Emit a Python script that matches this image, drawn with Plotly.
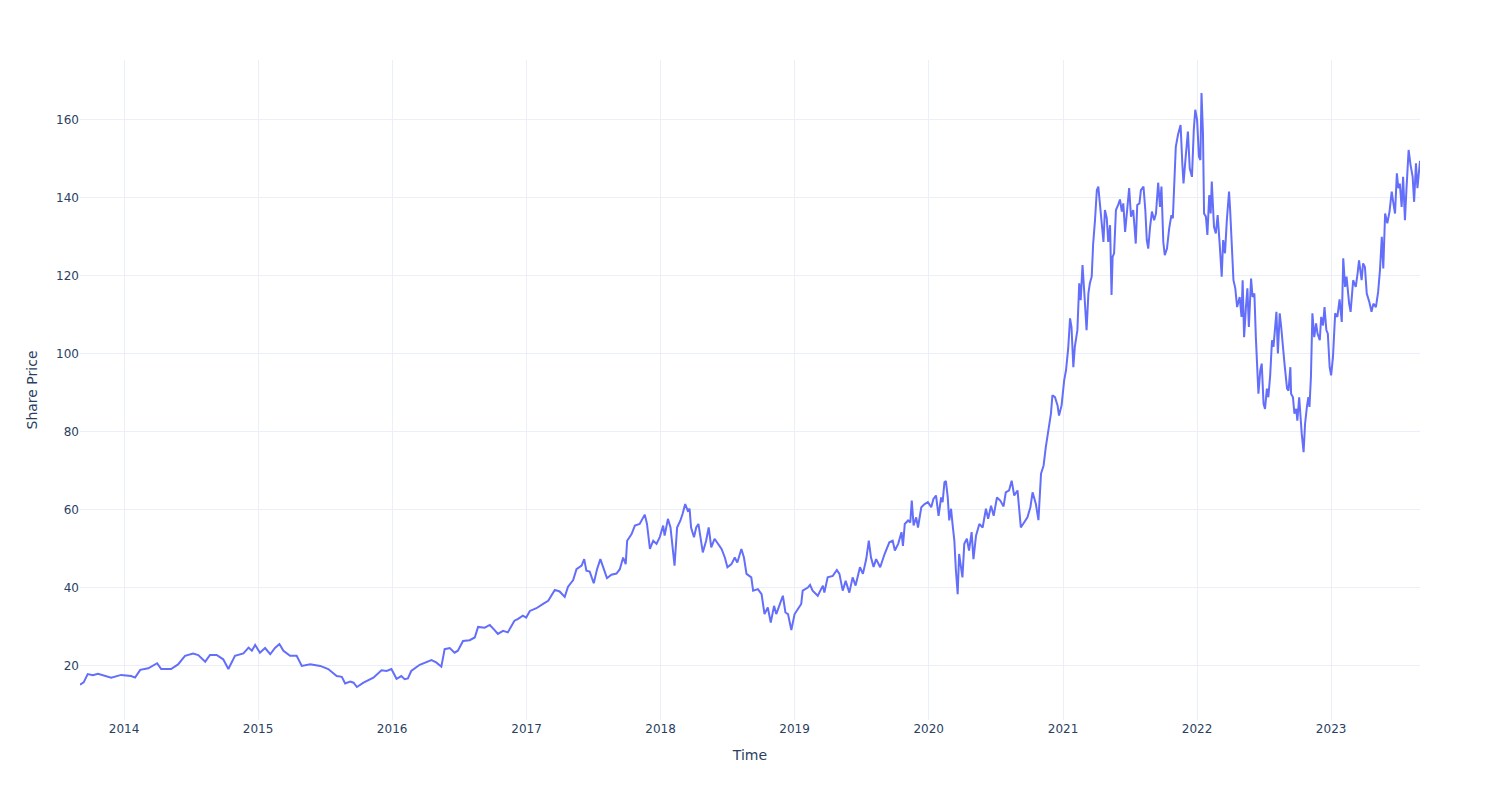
import plotly.graph_objects as go

dates = [
    "2013-09-03", "2013-09-13", "2013-09-24", "2013-10-08", "2013-10-22", "2013-11-08", "2013-11-27",
    "2013-12-24", "2014-01-20", "2014-01-31", "2014-02-14", "2014-03-08", "2014-04-01", "2014-04-12",
    "2014-05-09", "2014-05-28", "2014-06-16", "2014-07-08", "2014-07-22", "2014-08-10", "2014-08-23",
    "2014-09-10", "2014-09-28", "2014-10-12", "2014-10-30", "2014-11-22", "2014-12-06", "2014-12-15",
    "2014-12-24", "2015-01-06", "2015-01-20", "2015-02-03", "2015-02-16", "2015-02-28", "2015-03-11",
    "2015-03-29", "2015-04-16", "2015-04-30", "2015-05-23", "2015-06-19", "2015-07-11", "2015-08-03",
    "2015-08-17", "2015-08-26", "2015-09-09", "2015-09-18", "2015-09-27", "2015-10-15", "2015-11-11",
    "2015-12-03", "2015-12-17", "2015-12-30", "2016-01-13", "2016-01-26", "2016-02-04", "2016-02-13",
    "2016-02-22", "2016-03-16", "2016-04-03", "2016-04-17", "2016-04-30", "2016-05-14", "2016-05-23",
    "2016-06-06", "2016-06-19", "2016-06-28", "2016-07-12", "2016-07-30", "2016-08-13", "2016-08-22",
    "2016-09-09", "2016-09-23", "2016-10-06", "2016-10-15", "2016-10-29", "2016-11-11", "2016-11-29",
    "2016-12-08", "2016-12-22", "2016-12-31",
    "2017-01-10", "2017-01-28", "2017-02-15", "2017-03-01", "2017-03-19", "2017-04-01", "2017-04-15",
    "2017-04-24", "2017-05-08", "2017-05-17", "2017-05-31", "2017-06-07", "2017-06-13", "2017-06-22",
    "2017-07-03", "2017-07-12", "2017-07-21", "2017-07-28", "2017-08-08", "2017-08-20", "2017-09-03",
    "2017-09-12", "2017-09-21", "2017-09-28", "2017-10-02", "2017-10-14", "2017-10-23", "2017-11-05",
    "2017-11-19", "2017-11-25", "2017-12-03", "2017-12-12", "2017-12-21", "2017-12-30",
    "2018-01-08", "2018-01-12", "2018-01-21", "2018-01-28", "2018-02-03", "2018-02-08", "2018-02-15",
    "2018-02-24", "2018-03-02", "2018-03-09", "2018-03-16", "2018-03-21", "2018-03-25", "2018-04-02",
    "2018-04-08", "2018-04-14", "2018-04-26", "2018-05-05", "2018-05-12", "2018-05-19", "2018-05-28",
    "2018-06-06", "2018-06-16", "2018-06-25", "2018-07-02", "2018-07-13", "2018-07-22", "2018-07-29",
    "2018-08-09", "2018-08-16", "2018-08-23", "2018-09-05", "2018-09-10", "2018-09-23", "2018-10-03",
    "2018-10-11", "2018-10-20", "2018-10-28", "2018-11-06", "2018-11-12", "2018-11-21", "2018-11-30",
    "2018-12-07", "2018-12-14", "2018-12-23",
    "2019-01-01", "2019-01-10", "2019-01-19", "2019-01-23", "2019-02-06", "2019-02-12", "2019-02-19",
    "2019-03-05", "2019-03-19", "2019-03-23", "2019-04-01", "2019-04-15", "2019-04-26", "2019-05-03",
    "2019-05-12", "2019-05-20", "2019-05-30", "2019-06-08", "2019-06-16", "2019-06-28", "2019-07-06",
    "2019-07-15", "2019-07-22", "2019-07-28", "2019-08-04", "2019-08-11", "2019-08-22", "2019-09-03",
    "2019-09-16", "2019-09-25", "2019-10-01", "2019-10-10", "2019-10-19", "2019-10-23", "2019-10-28",
    "2019-11-06", "2019-11-12", "2019-11-16", "2019-11-21", "2019-11-28", "2019-12-03", "2019-12-12",
    "2019-12-21", "2019-12-30",
    "2020-01-08", "2020-01-14", "2020-01-21", "2020-01-28", "2020-02-04", "2020-02-08", "2020-02-13",
    "2020-02-17", "2020-02-22", "2020-02-26", "2020-03-02", "2020-03-06", "2020-03-11", "2020-03-15",
    "2020-03-20", "2020-03-24", "2020-03-29", "2020-04-02", "2020-04-07", "2020-04-14", "2020-04-20",
    "2020-04-27", "2020-05-02", "2020-05-09", "2020-05-18", "2020-05-27", "2020-06-05", "2020-06-11",
    "2020-06-19", "2020-06-26", "2020-07-05", "2020-07-14", "2020-07-23", "2020-07-29", "2020-08-07",
    "2020-08-14", "2020-08-21", "2020-08-30", "2020-09-08", "2020-09-17", "2020-09-26", "2020-10-04",
    "2020-10-10", "2020-10-19", "2020-10-26", "2020-11-02", "2020-11-09", "2020-11-15", "2020-11-24",
    "2020-11-29", "2020-12-03", "2020-12-10", "2020-12-17", "2020-12-21", "2020-12-28",
    "2021-01-04", "2021-01-09", "2021-01-15", "2021-01-20", "2021-01-24", "2021-01-29", "2021-02-02",
    "2021-02-09", "2021-02-14", "2021-02-18", "2021-02-23", "2021-02-28", "2021-03-06", "2021-03-11",
    "2021-03-15", "2021-03-20", "2021-03-24", "2021-03-29", "2021-04-03", "2021-04-07", "2021-04-10",
    "2021-04-16", "2021-04-21", "2021-04-25", "2021-04-30", "2021-05-04", "2021-05-09", "2021-05-13",
    "2021-05-16", "2021-05-20", "2021-05-25", "2021-05-31", "2021-06-05", "2021-06-10", "2021-06-14",
    "2021-06-19", "2021-06-25", "2021-06-30", "2021-07-05", "2021-07-11", "2021-07-18", "2021-07-22",
    "2021-07-28", "2021-08-01", "2021-08-08", "2021-08-13", "2021-08-17", "2021-08-21", "2021-08-26",
    "2021-08-31", "2021-09-06", "2021-09-11", "2021-09-17", "2021-09-22", "2021-09-26", "2021-10-01",
    "2021-10-05", "2021-10-11", "2021-10-17", "2021-10-23", "2021-10-27", "2021-11-04", "2021-11-10",
    "2021-11-17", "2021-11-22", "2021-11-25", "2021-12-01", "2021-12-07", "2021-12-12", "2021-12-18",
    "2021-12-23", "2021-12-27",
    "2022-01-01", "2022-01-06", "2022-01-10", "2022-01-13", "2022-01-17", "2022-01-20", "2022-01-25",
    "2022-01-29", "2022-02-03", "2022-02-07", "2022-02-10", "2022-02-16", "2022-02-21", "2022-02-26",
    "2022-03-04", "2022-03-09", "2022-03-13", "2022-03-18", "2022-03-23", "2022-03-29", "2022-04-01",
    "2022-04-06", "2022-04-10", "2022-04-15", "2022-04-20", "2022-04-27", "2022-05-02", "2022-05-05",
    "2022-05-09", "2022-05-14", "2022-05-18", "2022-05-22", "2022-05-28", "2022-06-01", "2022-06-06",
    "2022-06-10", "2022-06-14", "2022-06-17", "2022-06-22", "2022-06-26", "2022-07-01", "2022-07-05",
    "2022-07-10", "2022-07-14", "2022-07-19", "2022-07-24", "2022-07-28", "2022-07-31", "2022-08-05",
    "2022-08-09", "2022-08-14", "2022-08-18", "2022-08-23", "2022-08-27", "2022-09-03", "2022-09-07",
    "2022-09-12", "2022-09-14", "2022-09-19", "2022-09-23", "2022-09-28", "2022-10-01", "2022-10-06",
    "2022-10-09", "2022-10-13", "2022-10-18", "2022-10-22", "2022-10-27", "2022-10-31", "2022-11-03",
    "2022-11-07", "2022-11-11", "2022-11-16", "2022-11-21", "2022-11-25", "2022-12-01", "2022-12-05",
    "2022-12-10", "2022-12-14", "2022-12-19", "2022-12-23", "2022-12-28",
    "2023-01-01", "2023-01-06", "2023-01-12", "2023-01-18", "2023-01-24", "2023-01-30", "2023-02-03",
    "2023-02-08", "2023-02-12", "2023-02-19", "2023-02-23", "2023-03-02", "2023-03-09", "2023-03-14",
    "2023-03-18", "2023-03-25", "2023-03-29", "2023-04-03", "2023-04-08", "2023-04-15", "2023-04-21",
    "2023-04-26", "2023-05-03", "2023-05-09", "2023-05-14", "2023-05-19", "2023-05-23", "2023-05-28",
    "2023-06-03", "2023-06-09", "2023-06-15", "2023-06-19", "2023-06-24", "2023-06-29", "2023-07-03",
    "2023-07-07", "2023-07-12", "2023-07-16", "2023-07-21", "2023-07-25", "2023-07-31", "2023-08-05",
    "2023-08-11", "2023-08-15", "2023-08-20", "2023-08-24", "2023-08-31",
]

prices = [
    15.2, 15.8, 17.9, 17.6, 18.0, 17.6, 17.0,
    17.7, 17.4, 17.0, 19.0, 19.4, 20.7, 19.2,
    19.2, 20.4, 22.6, 23.2, 22.8, 21.1, 22.8,
    22.8, 21.7, 19.2, 22.6, 23.2, 24.7, 23.9,
    25.4, 23.4, 24.6, 23.0, 24.6, 25.6, 23.9,
    22.6, 22.6, 20.0, 20.4, 20.0, 19.2, 17.4,
    17.2, 15.5, 16.0, 15.7, 14.6, 15.7, 17.0,
    18.9, 18.7, 19.2, 16.7, 17.4, 16.6, 16.8,
    18.7, 20.3, 20.9, 21.5, 20.9, 19.8, 24.3,
    24.6, 23.4, 23.9, 26.4, 26.6, 27.3, 30.0,
    29.8, 30.5, 29.2, 28.2, 29.0, 28.6, 31.6,
    32.0, 32.9, 32.4,
    34.1, 34.8, 35.9, 36.7, 39.5, 39.1, 37.7,
    40.3, 42.0, 44.8, 45.7, 47.4, 44.4, 44.2,
    41.2, 44.8, 47.4, 45.3, 42.5, 43.4, 43.7,
    44.8, 47.8, 46.1, 52.1, 53.8, 56.0, 56.4,
    58.8, 56.4, 50.0, 52.1, 51.3, 53.1,
    56.0, 53.4, 57.7, 55.5, 49.6, 45.7, 55.5,
    57.3, 59.0, 61.5, 59.8, 60.3, 55.5, 53.0,
    55.5, 56.4, 49.1, 52.1, 55.5, 50.4, 52.6,
    51.3, 50.0, 47.8, 45.3, 46.1, 47.8, 46.5,
    50.0, 47.8, 43.6, 42.7, 39.3, 39.7, 38.4,
    33.3, 35.0, 31.1, 35.4, 33.3, 35.4, 38.0,
    33.7, 33.3, 29.2,
    33.3, 34.6, 35.9, 39.3, 40.1, 40.8, 39.3,
    38.0, 40.6, 38.8, 42.7, 43.1, 44.6, 43.6,
    39.3, 41.8, 38.8, 42.7, 40.6, 45.3, 43.6,
    47.4, 52.1, 47.8, 45.4, 47.4, 45.3, 48.7,
    51.7, 52.1, 49.6, 51.3, 54.3, 50.8, 56.4,
    57.3, 56.8, 62.4, 56.0, 58.1, 55.5, 60.7,
    61.5, 62.0,
    60.7, 62.8, 63.7, 58.5, 63.2, 62.0, 67.1,
    67.4, 63.2, 57.3, 60.3, 56.4, 52.1, 44.8,
    38.4, 48.7, 45.3, 42.7, 51.3, 52.6, 49.6,
    54.3, 47.4, 53.4, 56.4, 55.5, 60.3, 57.7,
    61.1, 58.5, 63.2, 62.4, 60.9, 64.5, 65.0,
    67.5, 63.7, 65.0, 55.5, 56.8, 58.1, 60.7,
    64.5, 61.5, 57.4, 69.3, 71.4, 76.1, 82.5,
    84.7, 89.4, 88.9, 86.8, 84.2, 86.8,
    93.2, 95.8, 101.4, 109.1, 106.9, 96.6, 101.8,
    106.1, 118.1, 113.8, 122.8, 115.5, 106.1, 115.5,
    118.1, 119.8, 128.3, 134.3, 142.0, 142.9, 139.5,
    134.3, 128.7, 136.9, 134.8, 128.7, 133.0, 115.1,
    124.9, 125.8, 136.9, 138.2, 139.6, 136.5, 138.6,
    131.3, 138.6, 142.5, 135.2, 136.9, 128.3, 138.2,
    138.6, 142.0, 142.9, 136.9, 129.2, 127.0, 132.6,
    136.5, 134.3, 136.0, 143.9, 137.7, 142.9, 128.7,
    125.3, 127.0, 132.2, 135.6, 134.8, 153.1, 156.2,
    158.7, 148.4, 143.7, 150.6, 157.0, 147.6, 145.4,
    157.4, 162.6,
    160.0, 150.6, 149.7, 166.9, 156.6, 136.0, 135.2,
    130.5, 140.7, 136.0, 144.2, 132.6, 130.9, 135.6,
    127.5, 119.8, 129.2, 125.8, 134.3, 141.6, 136.9,
    126.6, 118.9, 116.8, 112.0, 114.6, 109.5, 118.9,
    104.3, 112.0, 116.8, 106.9, 119.3, 114.6, 115.5,
    104.3, 96.6, 89.8, 95.8, 97.5, 87.2, 85.9,
    91.1, 88.9, 94.5, 103.5, 101.8, 106.1, 110.8,
    100.1, 110.4, 106.9, 100.9, 97.5, 91.1, 90.6,
    96.6, 89.8, 88.9, 84.7, 85.9, 82.9, 88.9,
    84.2, 79.5, 74.8, 82.1, 86.4, 88.9, 86.4,
    94.1, 110.4, 104.3, 107.8, 105.2, 103.5, 109.5,
    107.3, 112.0, 106.1, 105.2, 96.6,
    94.5, 99.2, 110.4, 109.5, 114.0, 108.2, 124.5,
    117.2, 119.8, 112.9, 110.8, 118.9, 117.2, 120.6,
    124.0, 118.9, 123.2, 122.3, 115.5, 113.3, 110.8,
    112.9, 112.0, 115.9, 121.5, 130.0, 121.9, 136.0,
    133.5, 136.5, 141.6, 139.0, 136.0, 146.3, 142.5,
    143.7, 137.7, 145.4, 134.3, 142.0, 152.3, 148.6,
    145.4, 139.0, 148.9, 142.5, 149.5,
]

fig = go.Figure()
fig.add_trace(go.Scatter(
    x=dates, y=prices, mode="lines",
    line=dict(color="#636efa", width=2),
    name="Share Price",
))
fig.update_layout(
    template="plotly_white",
    width=1500, height=800,
    font=dict(family="DejaVu Sans, Verdana, sans-serif"),
    margin=dict(t=60, l=80, r=80, b=80),
    xaxis_title="Time",
    yaxis_title="Share Price",
    showlegend=False,
)
fig.write_html("out.html")
